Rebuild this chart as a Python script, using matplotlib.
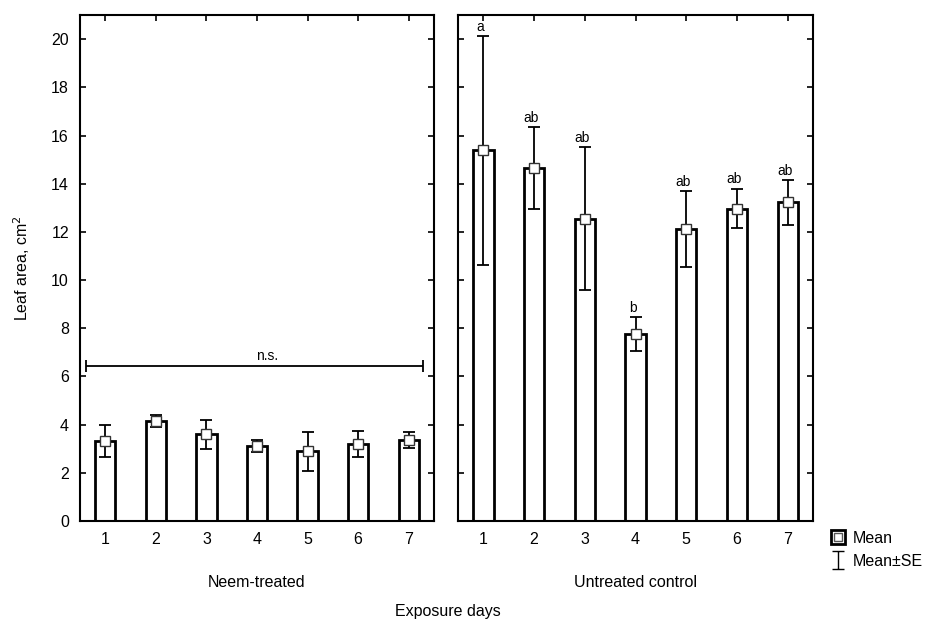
import matplotlib
matplotlib.use('Agg')
import matplotlib.pyplot as plt
from matplotlib.lines import Line2D
from matplotlib.path import Path
from matplotlib.legend_handler import HandlerTuple

plt.rcParams['font.family'] = ['Liberation Sans', 'DejaVu Sans']

#
# Data
#
days = [1, 2, 3, 4, 5, 6, 7]

neem_mean = [3.30, 4.15, 3.60, 3.10, 2.90, 3.18, 3.35]
neem_hi = [3.98, 4.40, 4.19, 3.36, 3.68, 3.73, 3.68]
neem_lo = [2.64, 3.91, 2.97, 2.88, 2.07, 2.64, 3.02]

ctrl_mean = [15.40, 14.65, 12.55, 7.75, 12.12, 12.97, 13.22]
ctrl_hi = [20.12, 16.35, 15.53, 8.45, 13.68, 13.80, 14.15]
ctrl_lo = [10.62, 12.95, 9.57, 7.07, 10.55, 12.15, 12.28]
ctrl_letters = ['a', 'ab', 'ab', 'b', 'ab', 'ab', 'ab']

ns_span = [0.62, 7.28]
ns_y = 6.45

fig = plt.figure(figsize=(9.38, 6.2), dpi=100)
ax1 = fig.add_axes([0.0853, 0.1597, 0.3774, 0.816])
ax2 = fig.add_axes([0.4883, 0.1597, 0.3785, 0.816])

FS = 11.5


def draw_panel(ax, mean, lo, hi):
    ax.bar(days, mean, width=0.4, color='white', edgecolor='black',
           linewidth=2, zorder=2)
    yerr = [[m - l for m, l in zip(mean, lo)], [h - m for m, h in zip(mean, hi)]]
    ax.errorbar(days, mean, yerr=yerr, fmt='none', ecolor='black',
                elinewidth=1.3, capsize=4, capthick=1.3, zorder=3)
    ax.plot(days, mean, linestyle='none', marker='s', markersize=7,
            markerfacecolor='white', markeredgecolor='#333333',
            markeredgewidth=1.0, zorder=4)
    ax.set_xlim(0.5, 7.5)
    ax.set_ylim(0, 21)
    ax.set_xticks(days)
    ax.set_yticks(range(0, 21, 2))
    ax.tick_params(direction='in', top=True, right=True, length=4,
                   width=1.2, labelsize=FS, pad=8)
    for s in ax.spines.values():
        s.set_linewidth(1.5)


draw_panel(ax1, neem_mean, neem_lo, neem_hi)
draw_panel(ax2, ctrl_mean, ctrl_lo, ctrl_hi)
ax2.tick_params(labelleft=False)

# n.s. bracket on the neem panel
ax1.errorbar([sum(ns_span) / 2], [ns_y], xerr=[[(ns_span[1] - ns_span[0]) / 2]],
             fmt='none', ecolor='black', elinewidth=1.3, capsize=4, capthick=1.3)
ax1.text(4.2, ns_y + 0.12, 'n.s.', ha='center', va='bottom', fontsize=10)

# significance letters
for d, h, lab in zip(days, ctrl_hi, ctrl_letters):
    ax2.annotate(lab, (d, h), xytext=(-2, 1.5), textcoords='offset points',
                 ha='center', va='bottom', fontsize=10)

ax1.set_ylabel('Leaf area, cm$^2$', fontsize=FS, labelpad=14)
ax1.set_xlabel('Neem-treated', fontsize=FS, labelpad=20)
ax2.set_xlabel('Untreated control', fontsize=FS, labelpad=20)
fig.text(0.477, 0.014, 'Exposure days', ha='center', va='center', fontsize=FS)

# legend
mean_handle = (Line2D([], [], linestyle='none', marker='s', markersize=10.5,
                      markerfacecolor='white', markeredgecolor='black',
                      markeredgewidth=2.0),
               Line2D([], [], linestyle='none', marker='s', markersize=5.5,
                      markerfacecolor='white', markeredgecolor='#555555',
                      markeredgewidth=1.0))
ibeam = Path([(-0.7, 1), (0.7, 1), (0, 1), (0, -1), (-0.7, -1), (0.7, -1)],
             [Path.MOVETO, Path.LINETO, Path.MOVETO, Path.LINETO,
              Path.MOVETO, Path.LINETO])
se_handle = Line2D([], [], linestyle='none', marker=ibeam, markersize=13,
                   markerfacecolor='none', markeredgecolor='black',
                   markeredgewidth=1.0)
fig.legend([mean_handle, se_handle], ['Mean', 'Mean\u00b1SE'],
           handler_map={tuple: HandlerTuple(ndivide=1, pad=0)},
           loc='upper left', bbox_to_anchor=(0.876, 0.158), frameon=False,
           fontsize=FS, handlelength=1.0, handleheight=1.1,
           handletextpad=0.45, labelspacing=0.45, borderpad=0.0)

fig.savefig('out.png', dpi=100)
